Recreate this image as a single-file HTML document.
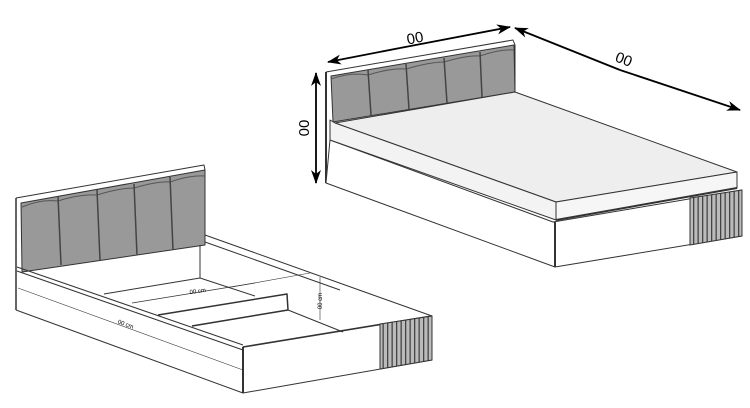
<!DOCTYPE html>
<html><head><meta charset="utf-8"><style>
html,body{margin:0;padding:0;background:#fff;width:750px;height:408px;overflow:hidden}
svg{display:block}
text{font-family:"Liberation Sans",sans-serif}
</style></head><body>
<svg width="750" height="408" viewBox="0 0 750 408" xmlns="http://www.w3.org/2000/svg">
<defs>
<marker id="as" markerWidth="14" markerHeight="10" refX="13" refY="5" orient="auto-start-reverse" markerUnits="userSpaceOnUse"><path d="M0,0 L14,5 L0,10 L4,5 Z" fill="#000"/></marker>
<pattern id="sl" width="4.5" height="10" patternUnits="userSpaceOnUse"><rect width="4.5" height="10" fill="#bbb"/><rect width="1.3" height="10" fill="#444"/></pattern>
</defs>
<g stroke="#333" stroke-width="1" fill="none" stroke-linejoin="round">
<!-- TOP BED -->
<path d="M326,72 L513,40 L515,45 L515,92 L333,123 L330,140 L326,183 Z" fill="#fff" stroke="none"/>
<path d="M326,72 L513,40 L515,45 L515,92"/>
<path d="M326,72 L326,183" stroke-width="2"/>
<path d="M331,76 L514,45 L515,92 L333,122 Z" fill="#999"/>
<path d="M331,79 Q350,72 368,75 Q390,68 406,69 Q430,62 444,62 Q468,55 480,56 Q500,49 514,50" stroke="#555"/>
<path d="M368,70 L371,115 M406,64 L409,109 M444,58 L447,103 M480,52 L482,97" stroke="#444" stroke-width="1.5"/>
<path d="M326,183 L555,267 L742,236 L742,190 L553,222 L330,140 Z" fill="#fff"/>
<path d="M555,222 L555,267" stroke-width="2"/>
<path d="M690,198 L742,190 L742,236 L690,245 Z" fill="url(#sl)"/>
<path d="M335,123 L515,92 L737,172 L556,202 Z" fill="#eee"/>
<path d="M335,123 L556,202 L556,220 L330,140 L330,120 Z" fill="#f3f3f3"/>
<path d="M556,202 L737,172 L737,188 L556,220 Z" fill="#f6f6f6"/>
<path d="M556,220 L737,188" stroke-width="2"/>
<!-- BOTTOM BED -->
<path d="M16,198 L204,165 L205,170 L205,245 L22,272 L16,272 Z" fill="#fff" stroke="none"/>
<path d="M16,198 L204,165 L205,170 L205,245"/>
<path d="M16,198 L16,310" stroke-width="1.5"/>
<path d="M21,203 L205,170 L205,245 L22,272 Z" fill="#999"/>
<path d="M22,207 Q40,199 58,201 Q80,194 97,195 Q120,188 134,188 Q158,181 170,182 Q190,175 205,176" stroke="#555"/>
<path d="M58,196 L61,265 M97,190 L100,260 M134,184 L137,255 M170,177 L173,250" stroke="#444" stroke-width="1.5"/>
<path d="M200,245 L200,278 L104,294"/>
<path d="M200,278 L255,296"/>
<path d="M205,235 L432,316 M205,242 L340,290"/>
<path d="M16,310 L243,393 M17,267 L243,345 M17,271 L243,350"/>
<path d="M243,347 L432,316 L432,360 L243,393 Z" fill="#fff"/>
<path d="M243,347 L243,393" stroke-width="2"/>
<path d="M243,347 L432,316" stroke-width="1.6"/>
<path d="M380,324 L432,316 L432,360 L380,369 Z" fill="url(#sl)"/>
<path d="M132,303 L255,283" stroke-width="0.8"/>
<path d="M158,315 L287,294 L288,310 L192,326" stroke-width="1.5"/>
<path d="M192,326 L288,310 M288,310 L343,332"/>
<path d="M232,287 L310,273" stroke-width="0.6"/>
<path d="M320,277 L320,320" stroke-width="0.6"/>
<path d="M18,288 L243,370" stroke-width="0.6"/>
</g>
<g stroke="#000" stroke-width="1.8">
<line x1="400" y1="48" x2="328" y2="62" marker-end="url(#as)"/>
<line x1="400" y1="48" x2="510" y2="27" marker-end="url(#as)"/>
<line x1="620" y1="70" x2="515" y2="28" marker-end="url(#as)"/>
<line x1="620" y1="70" x2="740" y2="110" marker-end="url(#as)"/>
<line x1="316" y1="128" x2="316" y2="73" marker-end="url(#as)"/>
<line x1="316" y1="128" x2="316" y2="183" marker-end="url(#as)"/>
</g>
<text x="416" y="43" font-size="15" text-anchor="middle" transform="rotate(-11 416 43)">00</text>
<text x="622" y="64" font-size="15" text-anchor="middle" transform="rotate(21 622 64)">00</text>
<text x="309" y="128" font-size="15" text-anchor="middle" transform="rotate(-90 309 128)">00</text>
<text x="198" y="293" font-size="6" text-anchor="middle" transform="rotate(-8 198 293)">00 cm</text>
<text x="322" y="301" font-size="6" text-anchor="middle" transform="rotate(-90 322 301)">00 cm</text>
<text x="125" y="326" font-size="6" text-anchor="middle" transform="rotate(20 125 326)">00 cm</text>
</svg>
</body></html>
